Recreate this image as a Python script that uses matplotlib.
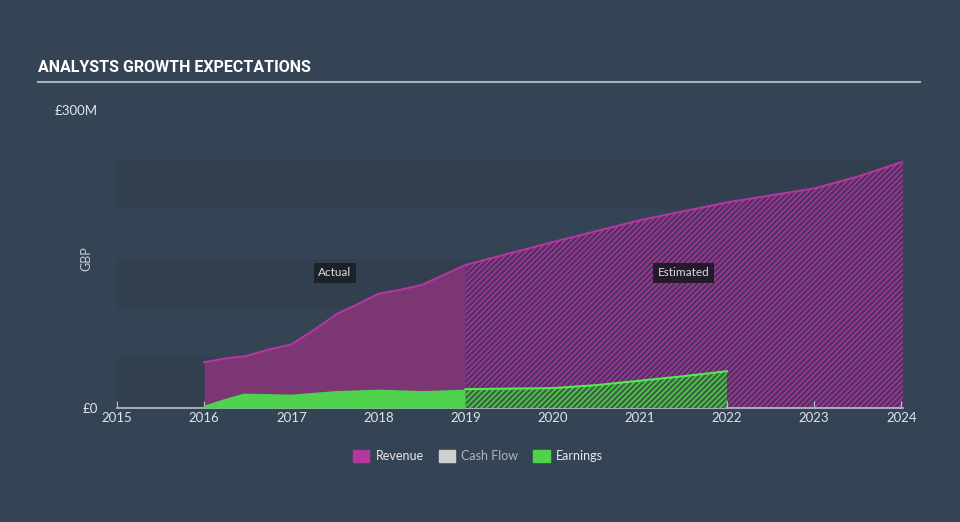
import matplotlib
matplotlib.use('Agg')
import matplotlib.pyplot as plt
from matplotlib.patches import Patch
import numpy as np

# values in GBP millions
rev_act_x = [2016.0, 2016.25, 2016.47, 2016.75, 2017.0, 2017.25, 2017.53, 2017.75, 2018.0, 2018.25, 2018.5, 2018.75, 2019.0]
rev_act_y = [46, 50, 52, 59, 64, 78, 95, 104, 115, 119, 124, 134, 144]
rev_est_x = [2019.0, 2020.0, 2021.0, 2022.0, 2022.5, 2023.0, 2023.5, 2024.02]
rev_est_y = [144, 167, 189, 207, 214, 221, 233, 248]

earn_act_x = [2016.0, 2016.25, 2016.45, 2017.0, 2017.5, 2018.0, 2018.5, 2019.0]
earn_act_y = [3, 10, 15, 14, 17.5, 19, 17.5, 19]
earn_est_x = [2019.0, 2020.0, 2020.5, 2021.0, 2021.5, 2022.0]
earn_est_y = [19, 20, 23, 27.5, 32, 37]

years = list(range(2015, 2025))

bg = '#354454'
band = '#313f4e'
rev_fill = '#7b3673'
rev_line = '#b4369f'
earn_fill = '#4fd34f'
earn_line = '#55e84f'

plt.rcParams['hatch.linewidth'] = 1.1
plt.rcParams['font.family'] = ['Lato', 'DejaVu Sans']

fig = plt.figure(figsize=(9.6, 5.22), dpi=100, facecolor=bg)
ax = fig.add_axes([117/960, 1-408/522, 786/960, 298/522])
ax.set_facecolor(bg)
ax.set_xlim(2015, 2024.02)
ax.set_ylim(0, 300)

for lo in [0, 100, 200]:
    ax.axhspan(lo, lo+50, color=band, lw=0, zorder=0)

# revenue
ax.fill_between(rev_act_x, rev_act_y, color=rev_fill, lw=0, zorder=1)
ax.fill_between(rev_est_x, rev_est_y, facecolor='#523060', edgecolor='#a03a9a', hatch='//////', lw=0, zorder=1)
ax.plot(rev_act_x + rev_est_x[1:], rev_act_y + rev_est_y[1:], color=rev_line, lw=1.5, zorder=2)

# earnings
ax.fill_between(earn_act_x, earn_act_y, color=earn_fill, lw=0, zorder=3)
ax.fill_between(earn_est_x, earn_est_y, facecolor='#3a6444', edgecolor='#52cf4c', hatch='//////', lw=0, zorder=3)
ax.plot(earn_est_x, earn_est_y, color=earn_line, lw=1.5, zorder=4)

for s in ['top', 'right', 'left']:
    ax.spines[s].set_visible(False)
ax.spines['bottom'].set_color('#b8c0cc')
ax.spines['bottom'].set_linewidth(1.2)
ax.set_xticks(years)
ax.set_xticklabels([str(y) for y in years])
ax.tick_params(axis='x', direction='in', length=5, color='#b8c0cc', labelcolor='#e0e4ea', labelsize=9.5, pad=3)
ax.set_yticks([0, 300])
ax.set_yticklabels(['£0', '£300M'])
ax.tick_params(axis='y', length=0, labelcolor='#e0e4ea', labelsize=9.5, pad=14)

ax.text(-0.039, 0.5, 'GBP', transform=ax.transAxes, rotation=90, fontsize=9, color='#c8ccd4', va='center', ha='center')

ax.text(2017.5, 136, 'Actual', color='#d8dce2', fontsize=8.5, ha='center', va='center',
        bbox=dict(boxstyle='square,pad=0.4', fc='#1d2229', ec='none'), zorder=6)
ax.text(2021.5, 136, 'Estimated', color='#d8dce2', fontsize=8.5, ha='center', va='center',
        bbox=dict(boxstyle='square,pad=0.4', fc='#231b29', ec='none'), zorder=6)

# title
fig.text(38/960, 1-68/522, 'ANALYSTS GROWTH EXPECTATIONS', color='white', fontsize=11.5,
         fontweight='bold', family=['Roboto', 'DejaVu Sans'], va='center', ha='left')
fig.add_artist(plt.Line2D([38/960, 920/960], [1-82/522, 1-82/522], color='#a8b0ba', lw=1.5))

handles = [Patch(color=rev_line, label='Revenue'), Patch(color='#cfcfcf', label='Cash Flow'),
           Patch(color=earn_fill, label='Earnings')]
leg = fig.legend(handles=handles, loc='center', bbox_to_anchor=(478/960, 1-456/522), ncol=3, frameon=False,
                 fontsize=9, handlelength=1.3, handleheight=1.1, handletextpad=0.5, columnspacing=1.2)
for t, c in zip(leg.get_texts(), ['#e8e8ec', '#b0b4bc', '#e8e8ec']):
    t.set_color(c)

fig.savefig('out.png', dpi=100, facecolor=bg)
